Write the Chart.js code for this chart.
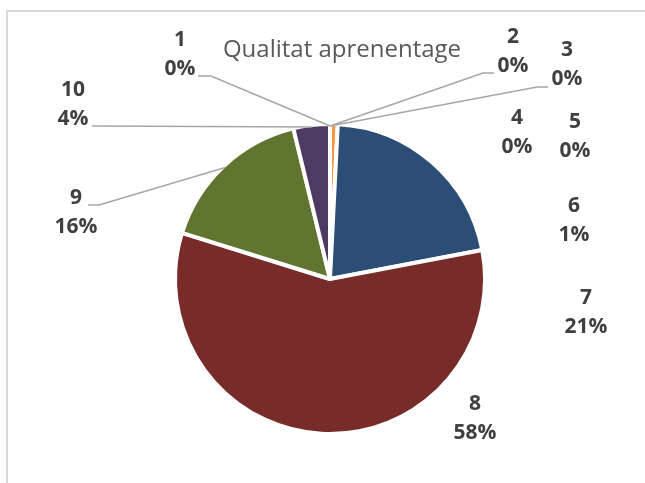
<!DOCTYPE html>
<html>
<head>
<meta charset="utf-8">
<script src="https://cdn.jsdelivr.net/npm/chart.js@4/dist/chart.umd.min.js"></script>
<style>
  html, body { margin: 0; padding: 0; background: #ffffff; }
  canvas { display: block; }
</style>
</head>
<body>
<canvas id="c" width="645" height="483"></canvas>
<script>
// ---- data ----
const title = 'Qualitat aprenentage';
const categories = ['1', '2', '3', '4', '5', '6', '7', '8', '9', '10'];
const values = [0, 0, 0, 0, 0, 0.8, 21.2, 57.8, 16.4, 3.8];

// ---- style ----
const sliceColors = ['#4F81BD', '#C0504D', '#9BBB59', '#8064A2', '#4BACC6',
                     '#F79646', '#2C4D75', '#772C2A', '#5F7530', '#4D3B62'];
// label block centres and optional leader start/elbow, relative to pie centre (px)
const labelLayout = [
  { dx: -150, dy: -224, line: [-132, -203, -119, -203] },
  { dx: 183, dy: -227.5, line: [164, -206, 153, -206] },
  { dx: 237, dy: -214.5, line: [218, -192, 207, -192] },
  { dx: 187, dy: -146 },
  { dx: 245, dy: -142.5 },
  { dx: 244, dy: -58.5 },
  { dx: 256, dy: 34 },
  { dx: 145, dy: 139.5 },
  { dx: -254, dy: -66.5, line: [-242, -74, -231, -74] },
  { dx: -257, dy: -174.5, line: [-238, -153, -238, -153] }
];
const BORDER = 4;

const overlay = {
  id: 'overlay',
  beforeDraw(chart) {
    const ctx = chart.ctx;
    ctx.save();
    ctx.fillStyle = '#ffffff';
    ctx.fillRect(0, 0, chart.width, chart.height);
    ctx.strokeStyle = '#d9d9d9';
    ctx.lineWidth = 2;
    ctx.strokeRect(7, 11, 1000, 1000);
    ctx.restore();
  },
  afterDraw(chart) {
    const ctx = chart.ctx;
    const meta = chart.getDatasetMeta(0);
    const total = values.reduce((a, b) => a + b, 0);
    ctx.save();
    // title
    const a0 = meta.data[0];
    const cx = a0.x, cy = a0.y;
    ctx.fillStyle = '#595959';
    ctx.font = '24px "Open Sans"';
    ctx.textAlign = 'center';
    ctx.textBaseline = 'alphabetic';
    ctx.fillText(title, cx + 12, 57);

    // leader lines
    ctx.strokeStyle = '#a6a6a6';
    ctx.lineWidth = 1.5;
    meta.data.forEach((arc, i) => {
      const L = labelLayout[i];
      if (!L.line) return;
      const mid = (arc.startAngle + arc.endAngle) / 2;
      const r = arc.outerRadius - BORDER / 2;
      const ax = arc.x + Math.cos(mid) * r;
      const ay = arc.y + Math.sin(mid) * r;
      ctx.beginPath();
      ctx.moveTo(cx + L.line[0], cy + L.line[1]);
      ctx.lineTo(cx + L.line[2], cy + L.line[3]);
      ctx.lineTo(ax, ay);
      ctx.stroke();
    });

    // labels
    ctx.fillStyle = '#404040';
    ctx.font = 'bold 21px "Open Sans"';
    ctx.textAlign = 'center';
    ctx.textBaseline = 'middle';
    categories.forEach((cat, i) => {
      const L = labelLayout[i];
      const pct = Math.round(values[i] / total * 100) + '%';
      ctx.fillText(cat, cx + L.dx, cy + L.dy - 14.5);
      ctx.fillText(pct, cx + L.dx, cy + L.dy + 14.5);
    });
    ctx.restore();
  }
};

new Chart(document.getElementById('c'), {
  type: 'pie',
  data: {
    labels: categories,
    datasets: [{
      data: values,
      backgroundColor: sliceColors,
      borderColor: '#ffffff',
      borderWidth: BORDER
    }]
  },
  options: {
    responsive: false,
    animation: false,
    layout: { padding: { left: 173, right: 158, top: 122, bottom: 47 } },
    plugins: {
      legend: { display: false },
      tooltip: { enabled: false },
      title: { display: false }
    }
  },
  plugins: [overlay]
});
</script>
</body>
</html>
